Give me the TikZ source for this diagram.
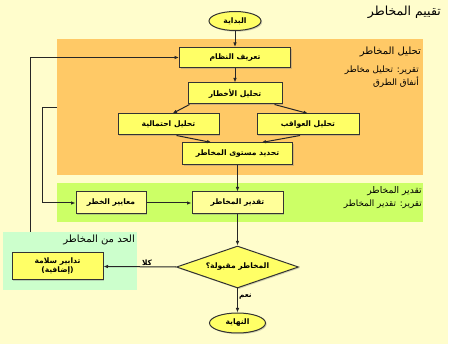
\documentclass[tikz,border=0pt]{standalone}
\usepackage{fontspec}
\newfontfamily\arabicfont[Script=Arabic]{DejaVu Sans}
\TeXXeTstate=1
\usetikzlibrary{arrows.meta,shapes.geometric,shadows}
\definecolor{bgy}{HTML}{FFFDCC}
\definecolor{orangeP}{HTML}{FFC966}
\definecolor{greenP}{HTML}{CCFF66}
\definecolor{mintP}{HTML}{CCFFCC}
\definecolor{boxY}{HTML}{FFFF66}
\definecolor{boxLY}{HTML}{FFFF99}
\definecolor{edgeC}{HTML}{333333}
\tikzset{
  box/.style={draw=edgeC, line width=1pt, fill=boxY, rectangle, inner sep=1pt,
    font=\arabicfont\bfseries\fontsize{7.6}{9}\selectfont, align=center,
    drop shadow={shadow xshift=1.2pt, shadow yshift=-1.2pt, opacity=0.35}},
  lbox/.style={box, fill=boxLY},
  term/.style={box, ellipse, inner sep=0pt},
  decide/.style={box, diamond, inner sep=0pt, aspect=2.9},
  conn/.style={draw=black!85, line width=1pt, -{Latex[length=4.5pt,width=3.6pt]}},
  paneltxt/.style={font=\arabicfont\fontsize{8.8}{10}\selectfont, anchor=east, inner sep=0pt, align=right},
  lbl/.style={font=\arabicfont\bfseries\fontsize{7.4}{9}\selectfont, inner sep=1pt}
}
\begin{document}
\begin{tikzpicture}[x=1pt,y=-1pt]
\path[use as bounding box] (0,0) rectangle (450,347);
\fill[white] (0,0) rectangle (450,347);
\fill[bgy] (0,0) rectangle (448,344);
% panels
\fill[orangeP] (57,39) rectangle (423,175);
\fill[greenP] (57,183) rectangle (423,222);
\fill[mintP] (3,232) rectangle (137,290);
% texts
\node[paneltxt, font=\arabicfont\fontsize{12.5}{14}\selectfont] (title) at (441,12) {\beginR تقييم المخاطر\endR};
\node[paneltxt, font=\arabicfont\fontsize{10}{12}\selectfont] (t1) at (421,52) {\beginR تحليل المخاطر\endR};
\node[paneltxt] (t2) at (419,70) {\beginR تقرير: تحليل مخاطر\endR};
\node[paneltxt] (t3) at (419,82) {\beginR أنفاق الطرق\endR};
\node[paneltxt, font=\arabicfont\fontsize{9.2}{11}\selectfont] (t4) at (422,191.5) {\beginR تقدير المخاطر\endR};
\node[paneltxt] (t5) at (422,204) {\beginR تقرير: تقدير المخاطر\endR};
\node[paneltxt, font=\arabicfont\fontsize{10}{12}\selectfont] (t6) at (135,240) {\beginR الحد من المخاطر\endR};
% nodes
\node[term, minimum width=52pt, minimum height=19pt] (start) at (235,21) {\beginR البداية\endR};
\node[box, minimum width=111pt, minimum height=20pt] (tarif) at (235,57.5) {\beginR تعريف النظام\endR};
\node[box, minimum width=94pt, minimum height=21pt] (akhtar) at (235,93.5) {\beginR تحليل الأخطار\endR};
\node[box, minimum width=101pt, minimum height=21pt] (ihtim) at (168.5,124.5) {\beginR تحليل احتمالية\endR};
\node[box, minimum width=102pt, minimum height=21pt] (awaqib) at (308,124.5) {\beginR تحليل العواقب\endR};
\node[box, minimum width=110pt, minimum height=22pt] (mustawa) at (237.5,154) {\beginR تحديد مستوى المخاطر\endR};
\node[lbox, minimum width=70pt, minimum height=22pt] (maayir) at (111,203) {\beginR معايير الخطر\endR};
\node[lbox, minimum width=91pt, minimum height=22pt] (taqdir) at (237.5,203) {\beginR تقدير المخاطر\endR};
\node[decide, minimum width=122pt, minimum height=42pt] (q) at (237.5,267) {\beginR المخاطر مقبولة؟\endR};
\node[box, minimum width=91pt, minimum height=27pt] (tadabir) at (57.5,266.5) {\beginR تدابير سلامة\endR\\\beginR (إضافية)\endR};
\node[term, minimum width=56pt, minimum height=20pt] (end) at (237.5,323) {\beginR النهاية\endR};
% connectors
\draw[conn] (start.south) -- (tarif.north);
\draw[conn] (tarif.south) -- (akhtar.north);
\draw[conn] ([xshift=2pt]akhtar.south west) -- ([xshift=4pt]ihtim.north);
\draw[conn] ([xshift=-8pt]akhtar.south east) -- (awaqib.north);
\draw[conn] ([xshift=8pt]ihtim.south) -- ([xshift=-26pt]mustawa.north);
\draw[conn] ([xshift=-8pt]awaqib.south) -- ([xshift=24pt]mustawa.north);
\draw[conn] (mustawa.south) -- (taqdir.north);
\draw[conn] (maayir.east) -- (taqdir.west);
\draw[conn] (taqdir.south) -- (q.north);
\draw[conn] (q.west) -- node[lbl, above, pos=0.4] (no) {\beginR كلا\endR} (tadabir.east);
\draw[conn] (q.south) -- node[lbl, right, pos=0.35] (yes) {\beginR نعم\endR} (end.north);
\coordinate (fb1) at (30,232);
\draw[conn] (fb1) |- (tarif.west);
\coordinate (fb2) at (57,108);
\coordinate (fb2c) at (42,108);
\draw[conn] (fb2) -- (fb2c) |- (maayir.west);
\end{tikzpicture}
\end{document}
